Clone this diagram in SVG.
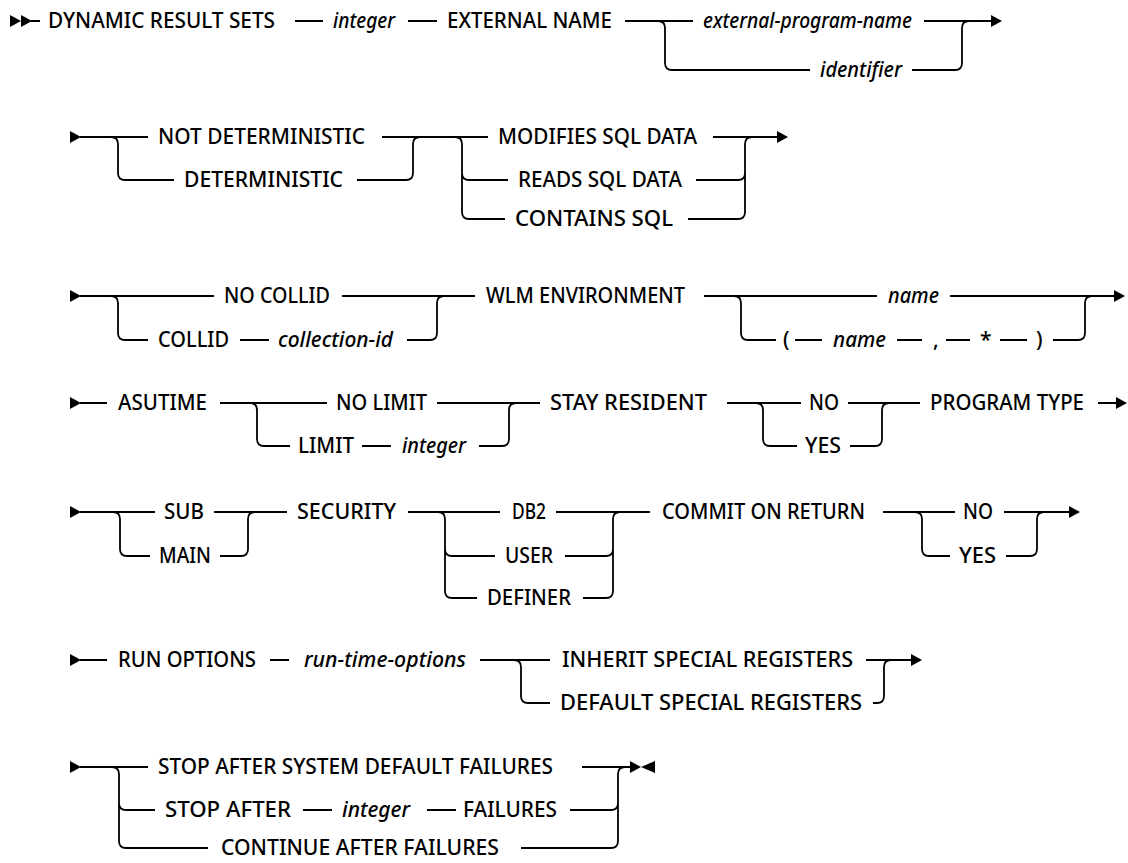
<svg xmlns="http://www.w3.org/2000/svg" xmlns:xlink="http://www.w3.org/1999/xlink" width="1128" height="863" viewBox="0 0 1128 863">
<style>
text{font-family:"Noto Sans","Liberation Sans",sans-serif;font-size:21px;font-weight:500;fill:#000}
.i{font-style:italic}
.c path{fill:none;stroke:#000;stroke-width:1.8}
.m{fill:#000}
</style>
<defs>
<path id="tr" d="M0,-6 L11,0 L0,6 Z"/>
<path id="tl" d="M0,0 L14,-6 L14,6 Z"/>
</defs>
<rect width="1128" height="863" fill="#fff"/>
<g id="markers" class="m">
<use xlink:href="#tr" x="10" y="21"/><use xlink:href="#tr" x="21" y="21"/>
<use xlink:href="#tr" x="991" y="21"/>
<use xlink:href="#tr" x="70" y="137"/><use xlink:href="#tr" x="777" y="137"/>
<use xlink:href="#tr" x="70" y="296"/><use xlink:href="#tr" x="1114" y="296"/>
<use xlink:href="#tr" x="70" y="403"/><use xlink:href="#tr" x="1116" y="403"/>
<use xlink:href="#tr" x="70" y="512"/><use xlink:href="#tr" x="1069" y="512"/>
<use xlink:href="#tr" x="70" y="660"/><use xlink:href="#tr" x="911" y="660"/>
<use xlink:href="#tr" x="70" y="767"/><use xlink:href="#tr" x="630" y="767"/><use xlink:href="#tl" x="641" y="767"/>
</g>
<g id="connectors" class="c">
<path d="M31,21H40M295,21H323M408,21H437M625,21H693M924,21H992"/>
<path d="M658,21Q665,21 665,28V63Q665,70 672,70H810"/>
<path d="M912,70H955Q962,70 962,63V28Q962,21 969,21"/>
<path d="M80,137H148M382,137H488M713,137H778"/>
<path d="M111,137Q118,137 118,144V173Q118,180 125,180H174"/>
<path d="M357,180H406Q413,180 413,173V144Q413,137 420,137"/>
<path d="M455,137Q462,137 462,144V212Q462,219 469,219H505M462,173Q462,180 469,180H508"/>
<path d="M688,219H738Q745,219 745,212V144Q745,137 752,137M696,180H738Q745,180 745,173"/>
<path d="M80,296H214M342,296H475M704,296H877M950,296H1115"/>
<path d="M111,296Q118,296 118,303V333Q118,340 125,340H148M240,340H269M407,340H430Q437,340 437,333V303Q437,296 444,296"/>
<path d="M734,296Q741,296 741,303V333Q741,340 748,340H776M795,340H822M897,340H922M946,340H970M1000,340H1027M1053,340H1078Q1085,340 1085,333V303Q1085,296 1092,296"/>
<path d="M80,403H107M220,403H327M437,403H540M727,403H801M848,403H920M1098,403H1117"/>
<path d="M250,403Q257,403 257,410V439Q257,446 264,446H290M362,446H391M479,446H502Q509,446 509,439V410Q509,403 516,403"/>
<path d="M756,403Q763,403 763,410V439Q763,446 770,446H797M850,446H875Q882,446 882,439V410Q882,403 889,403"/>
<path d="M80,512H155M214,512H287M408,512H500M556,512H650M883,512H955M1004,512H1070"/>
<path d="M113,512Q120,512 120,519V549Q120,556 127,556H150M220,556H241Q248,556 248,549V519Q248,512 255,512"/>
<path d="M438,512Q445,512 445,519V591Q445,598 452,598H477M445,549Q445,556 452,556H495"/>
<path d="M565,556H606Q613,556 613,549M583,598H606Q613,598 613,591V519Q613,512 620,512"/>
<path d="M915,512Q922,512 922,519V549Q922,556 929,556H950M1006,556H1030Q1037,556 1037,549V519Q1037,512 1044,512"/>
<path d="M80,660H107M270,660H289M480,660H550M866,660H912"/>
<path d="M514,660Q521,660 521,667V696Q521,703 528,703H550M873,703H877Q884,703 884,696V667Q884,660 891,660"/>
<path d="M80,767H148M582,767H631"/>
<path d="M112,767Q119,767 119,774V841Q119,848 126,848H208M119,803Q119,810 126,810H155"/>
<path d="M303,810H332M427,810H456M570,810H611Q618,810 618,803M521,848H611Q618,848 618,841V774Q618,767 625,767"/>
</g>
<g id="n-dynamic"><text x="48" y="28" textLength="227" lengthAdjust="spacingAndGlyphs">DYNAMIC RESULT SETS</text></g>
<g id="n-integer1"><text class="i" x="333" y="28" textLength="62" lengthAdjust="spacingAndGlyphs">integer</text></g>
<g id="n-extname"><text x="447" y="28" textLength="165" lengthAdjust="spacingAndGlyphs">EXTERNAL NAME</text></g>
<g id="n-extprog"><text class="i" x="703" y="28" textLength="209" lengthAdjust="spacingAndGlyphs">external-program-name</text></g>
<g id="n-identifier"><text class="i" x="820" y="77" textLength="82" lengthAdjust="spacingAndGlyphs">identifier</text></g>
<g id="n-notdet"><text x="158" y="144" textLength="207" lengthAdjust="spacingAndGlyphs">NOT DETERMINISTIC</text></g>
<g id="n-det"><text x="184" y="187" textLength="159" lengthAdjust="spacingAndGlyphs">DETERMINISTIC</text></g>
<g id="n-modifies"><text x="498" y="144" textLength="199" lengthAdjust="spacingAndGlyphs">MODIFIES SQL DATA</text></g>
<g id="n-reads"><text x="518" y="187" textLength="164" lengthAdjust="spacingAndGlyphs">READS SQL DATA</text></g>
<g id="n-contains"><text x="515" y="226" textLength="158" lengthAdjust="spacingAndGlyphs">CONTAINS SQL</text></g>
<g id="n-nocollid"><text x="224" y="303" textLength="106" lengthAdjust="spacingAndGlyphs">NO COLLID</text></g>
<g id="n-collid"><text x="158" y="347" textLength="71" lengthAdjust="spacingAndGlyphs">COLLID</text></g>
<g id="n-collectionid"><text class="i" x="278" y="347" textLength="115" lengthAdjust="spacingAndGlyphs">collection-id</text></g>
<g id="n-wlm"><text x="486" y="303" textLength="199" lengthAdjust="spacingAndGlyphs">WLM ENVIRONMENT</text></g>
<g id="n-name1"><text class="i" x="888" y="303" textLength="51" lengthAdjust="spacingAndGlyphs">name</text></g>
<g id="n-lparen"><text x="783" y="347">(</text></g>
<g id="n-name2"><text class="i" x="833" y="347" textLength="53" lengthAdjust="spacingAndGlyphs">name</text></g>
<g id="n-comma"><text x="933" y="347">,</text></g>
<g id="n-star"><text x="980" y="347">*</text></g>
<g id="n-rparen"><text x="1036" y="347">)</text></g>
<g id="n-asutime"><text x="118" y="410" textLength="89" lengthAdjust="spacingAndGlyphs">ASUTIME</text></g>
<g id="n-nolimit"><text x="336" y="410" textLength="91" lengthAdjust="spacingAndGlyphs">NO LIMIT</text></g>
<g id="n-limit"><text x="298" y="453" textLength="56" lengthAdjust="spacingAndGlyphs">LIMIT</text></g>
<g id="n-integer2"><text class="i" x="402" y="453" textLength="64" lengthAdjust="spacingAndGlyphs">integer</text></g>
<g id="n-stay"><text x="550" y="410" textLength="157" lengthAdjust="spacingAndGlyphs">STAY RESIDENT</text></g>
<g id="n-no1"><text x="809" y="410" textLength="30" lengthAdjust="spacingAndGlyphs">NO</text></g>
<g id="n-yes1"><text x="805" y="453" textLength="36" lengthAdjust="spacingAndGlyphs">YES</text></g>
<g id="n-progtype"><text x="930" y="410" textLength="154" lengthAdjust="spacingAndGlyphs">PROGRAM TYPE</text></g>
<g id="n-sub"><text x="164" y="519" textLength="40" lengthAdjust="spacingAndGlyphs">SUB</text></g>
<g id="n-main"><text x="159" y="563" textLength="52" lengthAdjust="spacingAndGlyphs">MAIN</text></g>
<g id="n-security"><text x="297" y="519" textLength="99" lengthAdjust="spacingAndGlyphs">SECURITY</text></g>
<g id="n-db2"><text x="512" y="519" textLength="34" lengthAdjust="spacingAndGlyphs">DB2</text></g>
<g id="n-user"><text x="505" y="563" textLength="48" lengthAdjust="spacingAndGlyphs">USER</text></g>
<g id="n-definer"><text x="487" y="605" textLength="84" lengthAdjust="spacingAndGlyphs">DEFINER</text></g>
<g id="n-commit"><text x="662" y="519" textLength="203" lengthAdjust="spacingAndGlyphs">COMMIT ON RETURN</text></g>
<g id="n-no2"><text x="963" y="519" textLength="30" lengthAdjust="spacingAndGlyphs">NO</text></g>
<g id="n-yes2"><text x="959" y="563" textLength="37" lengthAdjust="spacingAndGlyphs">YES</text></g>
<g id="n-runopts"><text x="118" y="667" textLength="138" lengthAdjust="spacingAndGlyphs">RUN OPTIONS</text></g>
<g id="n-runtime"><text class="i" x="304" y="667" textLength="162" lengthAdjust="spacingAndGlyphs">run-time-options</text></g>
<g id="n-inherit"><text x="562" y="667" textLength="291" lengthAdjust="spacingAndGlyphs">INHERIT SPECIAL REGISTERS</text></g>
<g id="n-default"><text x="560" y="710" textLength="302" lengthAdjust="spacingAndGlyphs">DEFAULT SPECIAL REGISTERS</text></g>
<g id="n-stopsys"><text x="158" y="774" textLength="395" lengthAdjust="spacingAndGlyphs">STOP AFTER SYSTEM DEFAULT FAILURES</text></g>
<g id="n-stopafter"><text x="165" y="817" textLength="126" lengthAdjust="spacingAndGlyphs">STOP AFTER</text></g>
<g id="n-integer3"><text class="i" x="342" y="817" textLength="68" lengthAdjust="spacingAndGlyphs">integer</text></g>
<g id="n-failures"><text x="463" y="817" textLength="94" lengthAdjust="spacingAndGlyphs">FAILURES</text></g>
<g id="n-continue"><text x="221" y="855" textLength="278" lengthAdjust="spacingAndGlyphs">CONTINUE AFTER FAILURES</text></g>
</svg>
